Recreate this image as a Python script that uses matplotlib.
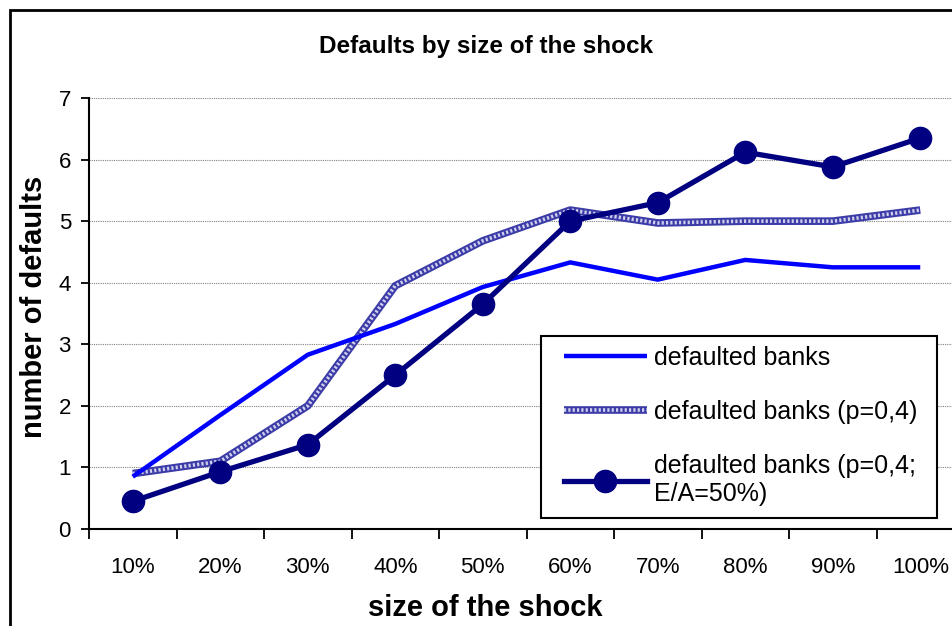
import numpy as np
import matplotlib
matplotlib.use("Agg")
import matplotlib.pyplot as plt
from matplotlib.patches import Rectangle
from matplotlib.legend_handler import HandlerTuple

plt.rcParams["font.family"] = ["Liberation Sans", "DejaVu Sans"]

SHOCKS = ["10%", "20%", "30%", "40%", "50%", "60%", "70%", "80%", "90%", "100%"]
BANKS = [0.85, 1.85, 2.83, 3.33, 3.93, 4.33, 4.05, 4.37, 4.25, 4.25]
BANKS_P04 = [0.90, 1.10, 2.00, 3.95, 4.68, 5.18, 4.97, 5.00, 5.00, 5.18]
BANKS_P04_EA50 = [0.45, 0.93, 1.37, 2.50, 3.65, 5.00, 5.30, 6.12, 5.88, 6.35]
LABELS = [
    "defaulted banks",
    "defaulted banks (p=0,4)",
    "defaulted banks (p=0,4;\nE/A=50%)",
]

W, H = 952, 626
fig = plt.figure(figsize=(W / 100, H / 100), dpi=100)
ax = fig.add_axes([89 / W, 1 - 529 / H, 875 / W, 431 / H])

x = np.arange(len(SHOCKS)) + 0.5

# hatched-looking line: dark blue base with light dotted overlay
l2a, = ax.plot(x, BANKS_P04, color="#3c3ca8", lw=5.5, solid_capstyle="butt", zorder=3)
l2b, = ax.plot(x, BANKS_P04, color="#d0d0ee", lw=2.6, ls=(0, (0.6, 0.6)),
               dash_capstyle="butt", zorder=3)
l1, = ax.plot(x, BANKS, color="#0000ff", lw=3.2, solid_capstyle="butt", zorder=3.5)
l3, = ax.plot(x, BANKS_P04_EA50, color="#000080", lw=3.8, marker="o",
              markersize=16, zorder=4)

ax.set_xlim(0, len(SHOCKS))
ax.set_ylim(0, 7)
ax.set_xticks(np.arange(len(SHOCKS) + 1))
ax.set_xticklabels([])
ax.set_xticks(x, minor=True)
ax.set_xticklabels(SHOCKS, minor=True, fontsize=16)
ax.tick_params(axis="x", which="major", direction="out", length=7, width=1.3)
ax.tick_params(axis="x", which="minor", length=0, pad=20)
ax.set_yticks(range(8))
ax.tick_params(axis="y", direction="out", length=6, width=1.3, labelsize=16, pad=7)

ax.grid(axis="y", color="#808080", linestyle=(0, (1, 1)), linewidth=0.8)
for s in ["top", "right"]:
    ax.spines[s].set_visible(False)
for s in ["left", "bottom"]:
    ax.spines[s].set_linewidth(1.5)

# title and axis labels are centred on the whole chart, not on the plot area
fig.text(486 / W, 1 - 46 / H, "Defaults by size of the shock", fontsize=17.5,
         fontweight="bold", ha="center", va="center")
ax.set_xlabel("size of the shock", fontsize=21, fontweight="bold")
ax.xaxis.set_label_coords((485 - 89) / 875, -(608 - 529) / 431)
ax.xaxis.label.set_va("center")
ax.set_ylabel("number of defaults", fontsize=21, fontweight="bold")
ax.yaxis.set_label_coords(-(89 - 34) / 875, (529 - 307) / 431)
ax.yaxis.label.set_va("center")

leg = ax.legend([l1, (l2a, l2b), l3], LABELS,
                handler_map={tuple: HandlerTuple(ndivide=1, pad=0)},
                loc="upper left", bbox_to_anchor=(564 / W, 1 - 346 / H),
                bbox_transform=fig.transFigure, borderaxespad=0, borderpad=0,
                fontsize=18, frameon=False, handlelength=3.3, handletextpad=0.3,
                labelspacing=1.2)
leg.set_zorder(10)

# legend box, drawn by hand to get its wide side padding
ax.add_patch(Rectangle((541 / W, 1 - 518 / H), 396 / W, 182 / H,
                       transform=fig.transFigure, facecolor="white",
                       edgecolor="black", linewidth=1.5, zorder=9, clip_on=False))

# outer chart border
fig.patches.append(Rectangle((10 / W, -0.1), 1.2, 1 - 10 / H + 0.1,
                             transform=fig.transFigure, fill=False,
                             edgecolor="black", linewidth=2))

fig.savefig("out.png", dpi=100)
